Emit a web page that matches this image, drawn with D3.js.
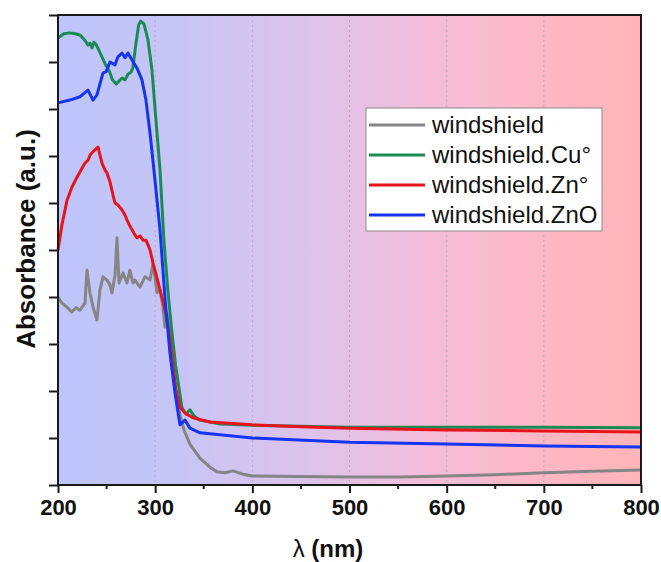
<!DOCTYPE html>
<html>
<head>
<meta charset="utf-8">
<script src="https://cdn.jsdelivr.net/npm/d3@7"></script>
<style>
  body { margin: 0; background: #fff; }
  svg { display: block; font-family: 'Liberation Sans', Arial, sans-serif; }
</style>
</head>
<body>
<svg id="chart" width="661" height="562"></svg>
<script>
// series: wavelength (nm) and absorbance (a.u.)
var seriesNames = ['windshield', 'windshield.Cu°', 'windshield.Zn°', 'windshield.ZnO']
var seriesColors = ['#858585', '#1b8a55', '#e8141c', '#1434f0']

var glassNm = [200, 204, 209, 214, 218.5, 222.6, 227.8, 229.8, 232.9, 236, 240.1, 243.2, 246.3, 250.4, 253.5, 255.6, 258.7, 260.7, 262.8, 266.9, 271, 274, 277.2, 279.2, 284.4, 289.5, 294.7, 297.8, 301.9, 305, 308, 310.1, 312.2, 315.2, 318.3, 321.4, 325.5, 329.7, 335.8, 346.1, 356.4, 363.6, 371.8, 380, 390.3, 400, 450, 500, 552, 600, 650, 700, 750, 800]
var glassAbs = [4.00, 3.87, 3.79, 3.68, 3.77, 3.72, 3.87, 4.57, 4.09, 3.79, 3.51, 4.15, 4.43, 4.36, 4.26, 4.09, 4.47, 5.26, 4.30, 4.51, 4.30, 4.57, 4.30, 4.36, 4.21, 4.43, 4.36, 4.72, 4.09, 4.15, 3.79, 3.36, 3.66, 3.19, 2.55, 1.98, 1.49, 1.17, 0.87, 0.57, 0.38, 0.28, 0.26, 0.30, 0.23, 0.19, 0.18, 0.17, 0.17, 0.19, 0.22, 0.26, 0.29, 0.32]

var cuNm = [200, 206, 212, 218, 223, 228, 231, 233, 235, 237, 239, 243, 249, 253, 256, 260, 263, 266, 269, 272, 275, 277, 280, 283, 285, 288.5, 292.6, 296.7, 300.8, 305, 309, 313, 317, 321, 327.6, 331.7, 335.8, 340, 346, 367, 400, 450, 500, 600, 700, 800]
var cuAbs = [9.51, 9.60, 9.62, 9.60, 9.57, 9.45, 9.36, 9.40, 9.30, 9.42, 9.38, 9.21, 8.94, 8.80, 8.62, 8.53, 8.60, 8.66, 8.62, 8.74, 8.78, 8.87, 9.36, 9.79, 9.87, 9.81, 9.47, 8.83, 7.77, 6.70, 5.21, 4.15, 3.30, 2.55, 1.64, 1.51, 1.60, 1.47, 1.38, 1.30, 1.27, 1.25, 1.23, 1.23, 1.23, 1.22]

var znNm = [200, 204, 209.3, 214.4, 219.6, 224.7, 227.8, 230.9, 233, 236, 238, 241.2, 243.2, 245.3, 248.4, 250.4, 253.5, 256.6, 258.7, 261.7, 265.9, 269, 271, 274, 276.2, 279.2, 281.3, 284.4, 287.5, 290.5, 292.6, 294.7, 297.8, 301.9, 305, 309, 312.2, 315.2, 318.3, 321.4, 325.5, 330.7, 339, 356.4, 400, 450, 500, 600, 700, 800]
var znAbs = [5.00, 5.53, 6.06, 6.34, 6.55, 6.74, 6.85, 6.91, 7.02, 7.09, 7.13, 7.19, 7.02, 6.85, 6.70, 6.64, 6.45, 6.17, 6.00, 5.96, 5.85, 5.74, 5.64, 5.51, 5.43, 5.32, 5.26, 5.30, 5.21, 5.21, 5.11, 5.00, 4.72, 4.40, 4.15, 3.83, 3.51, 3.09, 2.51, 2.02, 1.66, 1.53, 1.43, 1.34, 1.28, 1.24, 1.21, 1.17, 1.15, 1.13]

var znoNm = [200, 212.3, 222.6, 230.9, 236, 240.1, 246.3, 249.4, 253.5, 258.7, 261.7, 265.9, 269, 272, 276.2, 281.3, 286.4, 290.5, 294.7, 299.8, 305, 310, 315.2, 320.4, 325.5, 330.7, 335.8, 346.1, 400, 500, 600, 700, 800]
var znoAbs = [8.13, 8.19, 8.26, 8.40, 8.19, 8.30, 8.77, 8.79, 9.00, 8.94, 9.11, 9.19, 9.09, 9.19, 9.04, 8.87, 8.62, 8.19, 7.49, 6.49, 5.43, 4.00, 2.81, 1.96, 1.28, 1.38, 1.21, 1.11, 1.00, 0.91, 0.87, 0.83, 0.81]

var xTicks = [200, 300, 400, 500, 600, 700, 800]
var xMinorTicks = [250, 350, 450, 550, 650, 750]
var yTicks = [0, 1, 2, 3, 4, 5, 6, 7, 8, 9, 10]

var svg = d3.select('#chart'),
  margin = {top: 15, right: 20, bottom: 77, left: 58},
  width = +svg.attr('width') - margin.left - margin.right,
  height = +svg.attr('height') - margin.top - margin.bottom,
  g = svg.append('g').attr('transform', 'translate(' + margin.left + ',' + margin.top + ')')

var x = d3.scaleLinear().domain([200, 800]).range([0, width])
var y = d3.scaleLinear().domain([0, 10]).range([height, 0])

// blue to pink background
var grad = svg.append('defs').append('linearGradient')
  .attr('id', 'bg')
  .attr('x1', '0%').attr('x2', '100%')
  .attr('y1', '0%').attr('y2', '0%')
grad.selectAll('stop')
  .data([[0, '#bec5fa'], [0.2, '#c6c5f6'], [0.42, '#dcc3ec'], [0.62, '#f2bdda'], [0.82, '#fdb8c6'], [1, '#ffb4b8']])
  .enter().append('stop')
  .attr('offset', function(d) { return d[0] })
  .attr('stop-color', function(d) { return d[1] })

g.append('rect')
  .attr('width', width)
  .attr('height', height)
  .attr('fill', 'url(#bg)')

g.append('g')
  .selectAll('line')
  .data(xTicks.slice(1, -1))
  .enter().append('line')
  .attr('x1', function(d) { return x(d) })
  .attr('x2', function(d) { return x(d) })
  .attr('y1', 0)
  .attr('y2', height)
  .attr('stroke', '#b4b0c4')
  .attr('stroke-width', 1)
  .style('stroke-dasharray', '2,3')

var series = [
  {name: seriesNames[0], nm: glassNm, abs: glassAbs, color: seriesColors[0]},
  {name: seriesNames[1], nm: cuNm, abs: cuAbs, color: seriesColors[1]},
  {name: seriesNames[2], nm: znNm, abs: znAbs, color: seriesColors[2]},
  {name: seriesNames[3], nm: znoNm, abs: znoAbs, color: seriesColors[3]}
]

var line = d3.line()
  .x(function(d) { return x(d[0]) })
  .y(function(d) { return y(d[1]) })

g.append('g')
  .selectAll('path')
  .data(series)
  .enter().append('path')
  .attr('fill', 'none')
  .attr('stroke', function(d) { return d.color })
  .attr('stroke-width', 3)
  .attr('stroke-linejoin', 'round')
  .attr('d', function(d) { return line(d.nm.map(function(v, i) { return [v, d.abs[i]] })) })

// frame
g.append('rect')
  .attr('width', width)
  .attr('height', height)
  .attr('fill', 'none')
  .attr('stroke', '#1a1a1a')
  .attr('stroke-width', 2)

var xAxis = g.append('g')
  .attr('transform', 'translate(0,' + height + ')')
  .call(d3.axisBottom(x).tickValues(xTicks).tickSize(8).tickPadding(6).tickFormat(d3.format('d')))
xAxis.select('.domain').remove()
xAxis.selectAll('line').attr('stroke', '#1a1a1a').attr('stroke-width', 2)
xAxis.selectAll('text')
  .attr('fill', '#111')
  .attr('font-size', 22)
  .attr('font-weight', 'bold')
  .attr('font-family', "'Liberation Sans', Arial, sans-serif")

g.append('g')
  .selectAll('line')
  .data(xMinorTicks)
  .enter().append('line')
  .attr('x1', function(d) { return x(d) })
  .attr('x2', function(d) { return x(d) })
  .attr('y1', height)
  .attr('y2', height + 4)
  .attr('stroke', '#1a1a1a')
  .attr('stroke-width', 2)

var yAxis = g.append('g')
  .call(d3.axisLeft(y).tickValues(yTicks).tickSize(9).tickFormat(''))
yAxis.select('.domain').remove()
yAxis.selectAll('line').attr('stroke', '#1a1a1a').attr('stroke-width', 2)

// axis titles
var xTitle = svg.append('text')
  .attr('x', 328)
  .attr('y', 557)
  .attr('text-anchor', 'middle')
  .attr('font-size', 24)
  .attr('fill', '#111')
xTitle.append('tspan').text('λ ')
xTitle.append('tspan').attr('font-weight', 'bold').text('(nm)')

svg.append('text')
  .attr('transform', 'translate(35,239) rotate(-90)')
  .attr('text-anchor', 'middle')
  .attr('font-size', 26)
  .attr('font-weight', 'bold')
  .attr('fill', '#111')
  .text('Absorbance (a.u.)')

// legend
var legend = svg.append('g').attr('transform', 'translate(366,108)')

legend.append('rect')
  .attr('width', 236)
  .attr('height', 123)
  .attr('fill', '#fff')
  .attr('stroke', '#8a8a8a')
  .attr('stroke-width', 1)

var item = legend.selectAll('g')
  .data(series)
  .enter().append('g')
  .attr('transform', function(d, i) { return 'translate(0,' + (17 + 30 * i) + ')' })

item.append('line')
  .attr('x1', 3)
  .attr('x2', 59)
  .attr('y1', 0)
  .attr('y2', 0)
  .attr('stroke', function(d) { return d.color })
  .attr('stroke-width', 3)

item.append('text')
  .attr('x', 66)
  .attr('y', 0)
  .attr('dy', '0.35em')
  .attr('font-size', 24)
  .attr('fill', '#111')
  .text(function(d) { return d.name })
</script>
</body>
</html>
